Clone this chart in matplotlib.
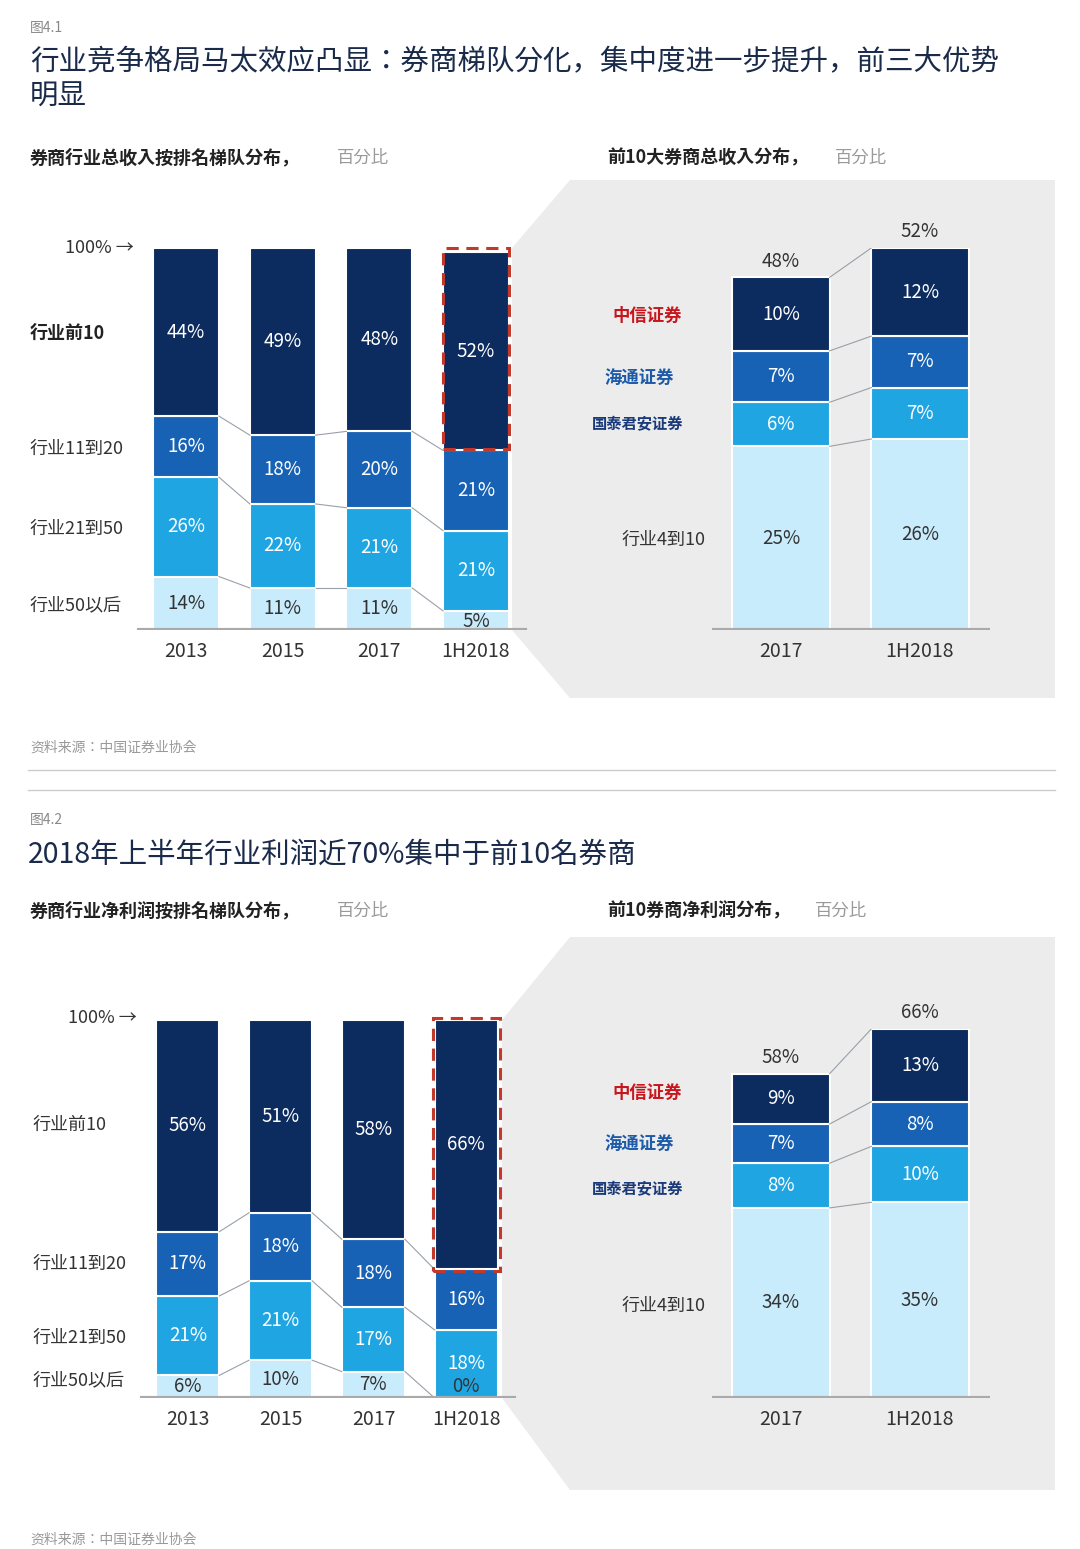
import matplotlib
matplotlib.use("Agg")
import matplotlib.pyplot as plt
from matplotlib import font_manager as fm
from matplotlib.patches import Polygon
import numpy as np

names = sorted({f.name for f in fm.fontManager.ttflist})
pref = ([n for n in names if "Sans CJK SC" in n] or [n for n in names if "Sans CJK" in n]
        or [n for n in names if "CJK" in n and "Serif" not in n] or [n for n in names if "CJK" in n])
plt.rcParams["font.family"] = (pref[:1] if pref else []) + ["DejaVu Sans"]

W, H = 1080, 1549
NAVY, MID, LIGHT, PALE = "#0c2b5e", "#1762b4", "#1fa6e2", "#c8ecfb"
GRAYBG = "#ececec"

# ---- data ----
years1 = ["2013", "2015", "2017", "1H2018"]
top10_1 = [44, 49, 48, 52]
r11_20_1 = [16, 18, 20, 21]
r21_50_1 = [26, 22, 21, 21]
r50p_1 = [14, 11, 11, 5]

years_r = ["2017", "1H2018"]
citic_1 = [10, 12]
haitong_1 = [7, 7]
gtja_1 = [6, 7]
r4_10_1 = [25, 26]

top10_2 = [56, 51, 58, 66]
r11_20_2 = [17, 18, 18, 16]
r21_50_2 = [21, 21, 17, 18]
r50p_2 = [6, 10, 7, 0]

citic_2 = [9, 13]
haitong_2 = [7, 8]
gtja_2 = [8, 10]
r4_10_2 = [34, 35]

fig = plt.figure(figsize=(W / 100, H / 100), dpi=100)
fig.patch.set_facecolor("white")

def P(x, y):
    return x / W, 1 - y / H

def T(x, y, s, **kw):
    fig.text(*P(x, y), s, **kw)

def add_ax(l, t, r, b, zorder=2):
    ax = fig.add_axes([l / W, 1 - b / H, (r - l) / W, (b - t) / H], zorder=zorder)
    ax.patch.set_alpha(0)
    for sp in ax.spines.values():
        sp.set_visible(False)
    return ax

bg = fig.add_axes([0, 0, 1, 1], zorder=0)
bg.set_xlim(0, W); bg.set_ylim(H, 0); bg.axis("off")
bg.add_patch(Polygon([(512, 248), (570, 180), (1055, 180), (1055, 698), (570, 698), (512, 630)],
                     closed=True, color=GRAYBG, lw=0))
bg.add_patch(Polygon([(502, 1020), (570, 937), (1055, 937), (1055, 1490), (570, 1490), (502, 1398)],
                     closed=True, color=GRAYBG, lw=0))
bg.plot([28, 1055], [770, 770], color="#cccccc", lw=1)
bg.plot([28, 1055], [790, 790], color="#cccccc", lw=1)

def stacked(ax, series, colors, txtcolors, width, labels_x, link_top=True):
    n = len(series[0])
    x = np.arange(n)
    bottom = np.zeros(n)
    bounds = []
    for vals, c, tc in zip(series, colors, txtcolors):
        vals = np.array(vals, float)
        ax.bar(x, vals, width, bottom=bottom, color=c, edgecolor="white", linewidth=1.5)
        for i in range(n):
            v = vals[i]
            if v >= 6:
                ax.text(x[i], bottom[i] + v / 2, f"{int(v)}%", ha="center", va="center",
                        color=tc, fontsize=13.5)
        bottom = bottom + vals
        bounds.append(bottom.copy())
    links = bounds if link_top else bounds[:-1]
    for b in links:
        for i in range(n - 1):
            ax.plot([x[i] + width / 2, x[i + 1] - width / 2], [b[i], b[i + 1]],
                    color="#9aa0a8", lw=0.8)
    ax.set_xticks(x, labels_x, fontsize=14, color="#333333")
    ax.tick_params(length=0, pad=8)
    ax.set_yticks([])
    return bounds

# ---------- chart 1 ----------
T(30, 28, "图4.1", fontsize=10, color="#888888", va="center")
T(30, 62, "行业竞争格局马太效应凸显：券商梯队分化，集中度进一步提升，前三大优势", fontsize=20.5, color="#1a2a4a", va="center")
T(30, 97, "明显", fontsize=20.5, color="#1a2a4a", va="center")
T(30, 158, "券商行业总收入按排名梯队分布，", fontsize=13, fontweight="bold", color="#222222", va="center")
T(337, 158, "百分比", fontsize=12.5, color="#999999", va="center")
T(607, 158, "前10大券商总收入分布，", fontsize=13, fontweight="bold", color="#222222", va="center")
T(835, 158, "百分比", fontsize=12.5, color="#999999", va="center")

ax1 = add_ax(131, 248, 531, 630)
ax1.set_xlim(-0.57, 3.57); ax1.set_ylim(0, 100)
stacked(ax1, [r50p_1, r21_50_1, r11_20_1, top10_1], [PALE, LIGHT, MID, NAVY],
        ["#333333", "white", "white", "white"], 0.68, years1, link_top=False)
ax1.text(3, -0.5, "5%", ha="center", va="bottom", fontsize=13.5, color="#333333")
ax1.add_patch(plt.Rectangle((3 - 0.34, 100 - top10_1[3] - 0.5), 0.68, top10_1[3] + 0.5, fill=False,
                            edgecolor="#c0392b", lw=2.2, ls=(0, (4, 2.5)), zorder=5, clip_on=False))
ax1.axhline(0, xmin=0.02, xmax=0.985, color="#aaaaaa", lw=3)
T(65, 248, "100% →", fontsize=13, color="#333333", va="center")
T(30, 333, "行业前10", fontsize=13, fontweight="bold", color="#222222", va="center")
T(30, 449, "行业11到20", fontsize=13, color="#333333", va="center")
T(30, 529, "行业21到50", fontsize=13, color="#333333", va="center")
T(30, 605, "行业50以后", fontsize=13, color="#333333", va="center")

ax2 = add_ax(712, 248, 990, 630)
ax2.set_xlim(-0.496, 1.504); ax2.set_ylim(0, 52)
b = stacked(ax2, [r4_10_1, gtja_1, haitong_1, citic_1], [PALE, LIGHT, MID, NAVY],
            ["#333333", "white", "white", "white"], 0.70, years_r)
ax2.axhline(0, color="#aaaaaa", lw=3)
for i, tot in enumerate(b[-1]):
    ax2.text(i, tot + 0.8, f"{int(tot)}%", ha="center", va="bottom", fontsize=13.5, color="#333333")
T(622, 540, "行业4到10", fontsize=13, color="#333333", va="center")

def logos(y1, y2, y3):
    T(612, y1, "中信证券", fontsize=12.5, fontweight="bold", color="#c8161d", va="center")
    T(604, y2, "海通证券", fontsize=12.5, fontweight="bold", color="#1d5aa8", va="center", style="italic")
    T(592, y3, "国泰君安证券", fontsize=11, fontweight="bold", color="#1a3a7a", va="center")
logos(316, 378, 424)
T(30, 748, "资料来源：中国证券业协会", fontsize=10, color="#999999", va="center")

# ---------- chart 2 ----------
T(30, 820, "图4.2", fontsize=10, color="#888888", va="center")
T(28, 855, "2018年上半年行业利润近70%集中于前10名券商", fontsize=20.5, color="#1a2a4a", va="center")
T(30, 911, "券商行业净利润按排名梯队分布，", fontsize=13, fontweight="bold", color="#222222", va="center")
T(337, 911, "百分比", fontsize=12.5, color="#999999", va="center")
T(607, 911, "前10券商净利润分布，", fontsize=13, fontweight="bold", color="#222222", va="center")
T(815, 911, "百分比", fontsize=12.5, color="#999999", va="center")

ax3 = add_ax(134, 1020, 520, 1398)
ax3.set_xlim(-0.58, 3.58); ax3.set_ylim(0, 100)
stacked(ax3, [r50p_2, r21_50_2, r11_20_2, top10_2], [PALE, LIGHT, MID, NAVY],
        ["#333333", "white", "white", "white"], 0.68, years1, link_top=False)
ax3.text(3, 0.3, "0%", ha="center", va="bottom", fontsize=13.5, color="#333333")
ax3.add_patch(plt.Rectangle((3 - 0.36, 100 - top10_2[3] - 0.5), 0.72, top10_2[3] + 1, fill=False,
                            edgecolor="#c0392b", lw=2.2, ls=(0, (4, 2.5)), zorder=5, clip_on=False))
ax3.axhline(0, xmin=0.02, xmax=0.985, color="#aaaaaa", lw=3)
T(68, 1018, "100% →", fontsize=13, color="#333333", va="center")
T(33, 1125, "行业前10", fontsize=13, color="#333333", va="center")
T(33, 1264, "行业11到20", fontsize=13, color="#333333", va="center")
T(33, 1338, "行业21到50", fontsize=13, color="#333333", va="center")
T(33, 1380, "行业50以后", fontsize=13, color="#333333", va="center")

ax4 = add_ax(712, 1029, 990, 1398)
ax4.set_xlim(-0.496, 1.504); ax4.set_ylim(0, 66)
b = stacked(ax4, [r4_10_2, gtja_2, haitong_2, citic_2], [PALE, LIGHT, MID, NAVY],
            ["#333333", "white", "white", "white"], 0.70, years_r)
ax4.axhline(0, color="#aaaaaa", lw=3)
for i, tot in enumerate(b[-1]):
    ax4.text(i, tot + 1, f"{int(tot)}%", ha="center", va="bottom", fontsize=13.5, color="#333333")
T(622, 1306, "行业4到10", fontsize=13, color="#333333", va="center")
logos(1093, 1144, 1189)
T(30, 1540, "资料来源：中国证券业协会", fontsize=10, color="#999999", va="center")

fig.savefig("out.png", dpi=100)
